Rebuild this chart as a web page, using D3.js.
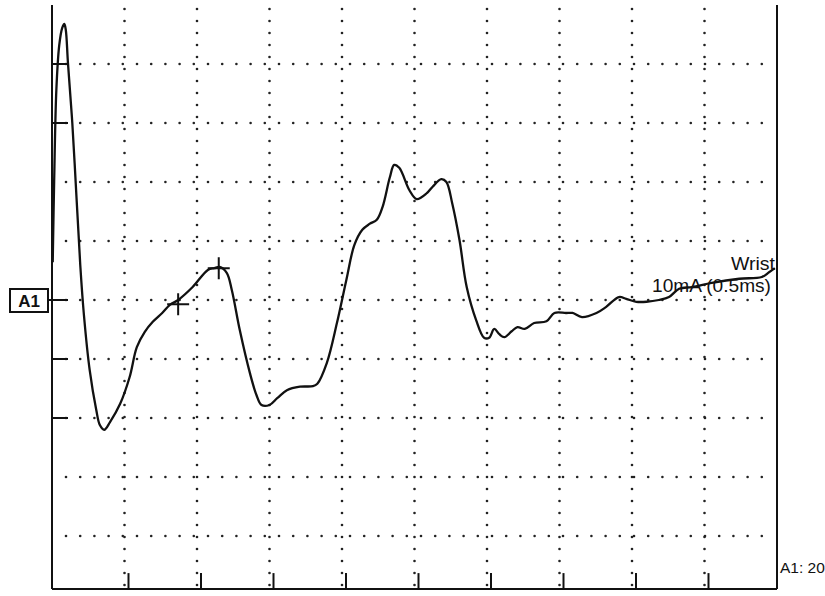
<!DOCTYPE html>
<html>
<head>
<meta charset="utf-8">
<script src="https://cdn.jsdelivr.net/npm/d3@7"></script>
<style>
  body { margin: 0; background: #fff; }
  svg { display: block; }
</style>
</head>
<body>
<svg id="chart" width="825" height="596"></svg>
<script>
// time in divisions (ms), amplitude in divisions, A1 baseline = 0
const traceTime = [0.01, 0.03, 0.06, 0.10, 0.14, 0.17, 0.19, 0.22, 0.28, 0.34, 0.39, 0.44, 0.52, 0.61, 0.66, 0.72,
  0.80, 0.94, 1.07, 1.17, 1.28, 1.39, 1.52, 1.63, 1.74, 1.94, 2.15, 2.24, 2.31, 2.41, 2.48, 2.59, 2.73, 2.82, 2.89,
  3.00, 3.11, 3.24, 3.42, 3.60, 3.66, 3.79, 3.93, 4.06, 4.17, 4.28, 4.38, 4.48, 4.56, 4.66, 4.72, 4.79, 4.93, 5.03,
  5.17, 5.25, 5.37, 5.44, 5.52, 5.62, 5.72, 5.85, 5.96, 6.03, 6.10, 6.17, 6.24, 6.34, 6.42, 6.52, 6.65, 6.82, 6.93,
  7.09, 7.18, 7.31, 7.51, 7.64, 7.82, 7.92, 8.06, 8.20, 8.37, 8.51, 8.65, 8.83, 9.10, 9.48, 9.79, 9.89, 9.97];
const traceAmp = [0.64, 2.03, 3.56, 4.32, 4.61, 4.68, 4.58, 4.02, 3.00, 1.69, 0.59, -0.25, -1.19, -1.86, -2.12, -2.20,
  -2.07, -1.76, -1.31, -0.80, -0.54, -0.37, -0.22, -0.08, 0.00, 0.22, 0.51, 0.54, 0.56, 0.46, 0.17, -0.51, -1.24, -1.61, -1.78,
  -1.78, -1.66, -1.53, -1.47, -1.46, -1.42, -1.07, -0.39, 0.34, 0.93, 1.19, 1.29, 1.36, 1.58, 2.08, 2.29, 2.24, 1.86, 1.71,
  1.81, 1.92, 2.05, 2.00, 1.64, 1.02, 0.22, -0.34, -0.64, -0.64, -0.49, -0.58, -0.63, -0.53, -0.46, -0.49, -0.39, -0.36, -0.22,
  -0.22, -0.22, -0.29, -0.22, -0.12, 0.05, 0.02, -0.03, -0.03, 0.00, 0.05, 0.19, 0.22, 0.29, 0.36, 0.39, 0.47, 0.54];

// cursor marks (onset, peak)
const markerTime = [1.74, 2.30];
const markerAmp = [-0.07, 0.54];

const xDivs = d3.range(1, 10);
const yDivs = [4, 3, 2, 1, 0, -1, -2, -3, -4];
const leftTicks = [4, 3, 0, -1, -2];

const traceName = "Wrist";
const stimLabel = "10mA (0.5ms)";
const channelLabel = "A1";
const scaleLabel = "A1: 20";

const svg = d3.select("#chart");
const x = d3.scaleLinear().domain([0, 10]).range([52, 777]);
const y = d3.scaleLinear().domain([-5, 5]).range([595, 5]);
const bottom = y(-4.9);

// dotted grid
let grid = svg.append("g").attr("fill", "#222");
xDivs.forEach(function(k) {
  grid.selectAll(null)
    .data(d3.range(y(5) + 4, bottom - 4, 12))
    .enter().append("circle")
    .attr("cx", x(k)).attr("cy", d => d).attr("r", 1.3);
});
yDivs.forEach(function(k) {
  grid.selectAll(null)
    .data(d3.range(x(0) + 14, x(10) - 4, 14.2))
    .enter().append("circle")
    .attr("cx", d => d).attr("cy", y(k)).attr("r", 1.3);
});

// frame
let frame = svg.append("g").attr("stroke", "#111").attr("stroke-width", 2).attr("fill", "none");
frame.append("line").attr("x1", x(0)).attr("x2", x(0)).attr("y1", y(5)).attr("y2", bottom);
frame.append("line").attr("x1", x(10)).attr("x2", x(10)).attr("y1", y(5)).attr("y2", bottom);
frame.append("line").attr("x1", x(0)).attr("x2", x(10)).attr("y1", bottom).attr("y2", bottom);

frame.selectAll(".btick")
  .data(xDivs)
  .enter().append("line")
  .attr("class", "btick")
  .attr("x1", d => x(d) + 4).attr("x2", d => x(d) + 4)
  .attr("y1", bottom).attr("y2", bottom - 16);

frame.selectAll(".ltick")
  .data(leftTicks)
  .enter().append("line")
  .attr("class", "ltick")
  .attr("x1", x(0)).attr("x2", x(0) + 16)
  .attr("y1", d => y(d)).attr("y2", d => y(d));

// A1 label box
svg.append("line")
  .attr("x1", 48).attr("x2", x(0))
  .attr("y1", y(0)).attr("y2", y(0))
  .attr("stroke", "#111").attr("stroke-width", 2);
svg.append("rect")
  .attr("x", 10).attr("y", y(0) - 11).attr("width", 38).attr("height", 23)
  .attr("fill", "#fff").attr("stroke", "#111").attr("stroke-width", 2);
svg.append("text")
  .attr("x", 29).attr("y", y(0) + 6.5)
  .attr("text-anchor", "middle")
  .attr("font-family", "Liberation Sans, Arial, sans-serif")
  .attr("font-size", 17).attr("font-weight", "bold")
  .attr("fill", "#111")
  .text(channelLabel);

// trace
const pts = traceTime.map((t, i) => [t, traceAmp[i]]);
const line = d3.line()
  .x(d => x(d[0]))
  .y(d => y(d[1]))
  .curve(d3.curveCatmullRom.alpha(0.5));

svg.append("path")
  .datum(pts)
  .attr("d", line)
  .attr("fill", "none")
  .attr("stroke", "#111")
  .attr("stroke-width", 2.3)
  .attr("stroke-linejoin", "round");

// cursors
markerTime.forEach(function(t, i) {
  let cx = x(t), cy = y(markerAmp[i]);
  svg.append("path")
    .attr("d", "M" + (cx - 11) + "," + cy + "H" + (cx + 11) + "M" + cx + "," + (cy - 11) + "V" + (cy + 11))
    .attr("stroke", "#111").attr("stroke-width", 2);
});

// labels
let txt = svg.append("g")
  .attr("font-family", "Liberation Sans, Arial, sans-serif")
  .attr("fill", "#111");
txt.append("text")
  .attr("x", 731).attr("y", 270)
  .attr("font-size", 18.5)
  .attr("textLength", 44)
  .attr("lengthAdjust", "spacingAndGlyphs")
  .text(traceName);
txt.append("text")
  .attr("x", 652).attr("y", 292)
  .attr("font-size", 18.5)
  .attr("textLength", 119)
  .attr("lengthAdjust", "spacingAndGlyphs")
  .text(stimLabel);
txt.append("text")
  .attr("x", 780).attr("y", 573)
  .attr("font-size", 15.5)
  .text(scaleLabel);
</script>
</body>
</html>
